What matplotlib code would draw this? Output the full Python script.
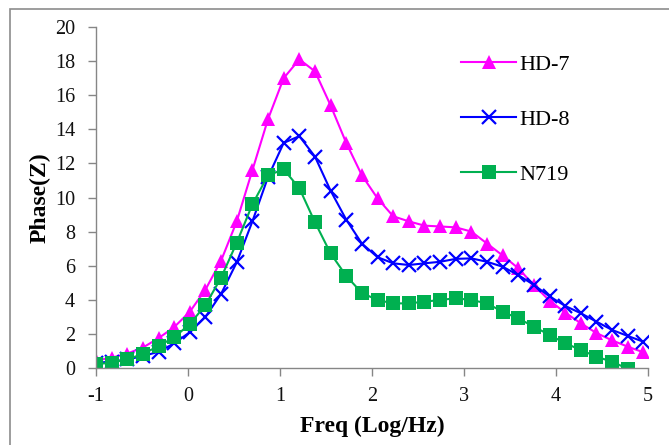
import matplotlib

matplotlib.use("Agg")
import matplotlib.pyplot as plt
from matplotlib.patches import Rectangle

# log10 frequency of each measured point
freq_log = [-1.00, -0.83, -0.66, -0.49, -0.32, -0.15, 0.02, 0.19, 0.36, 0.53,
            0.70, 0.87, 1.04, 1.21, 1.38, 1.55, 1.72, 1.89, 2.06, 2.23,
            2.40, 2.57, 2.74, 2.91, 3.08, 3.25, 3.42, 3.59, 3.76, 3.93,
            4.10, 4.27, 4.44, 4.61, 4.78, 4.95]

hd7 = [0.45, 0.60, 0.85, 1.20, 1.75, 2.40, 3.30, 4.60, 6.30, 8.60,
       11.6, 14.6, 17.0, 18.1, 17.4, 15.4, 13.2, 11.3, 9.95, 8.90,
       8.60, 8.35, 8.30, 8.25, 8.00, 7.30, 6.60, 5.85, 4.85, 3.95,
       3.25, 2.62, 2.05, 1.62, 1.25, 0.92]

hd8 = [0.30, 0.38, 0.50, 0.70, 0.95, 1.45, 2.10, 3.00, 4.35, 6.20,
       8.60, 11.2, 13.2, 13.6, 12.4, 10.4, 8.70, 7.30, 6.50, 6.14,
       6.04, 6.14, 6.23, 6.40, 6.43, 6.23, 5.94, 5.45, 4.87, 4.20,
       3.64, 3.21, 2.72, 2.23, 1.88, 1.54]

n719 = [0.23, 0.31, 0.51, 0.82, 1.29, 1.80, 2.58, 3.69, 5.30, 7.35,
        9.60, 11.3, 11.65, 10.55, 8.55, 6.72, 5.40, 4.40, 3.99, 3.79,
        3.79, 3.89, 3.99, 4.09, 3.99, 3.79, 3.30, 2.91, 2.42, 1.94,
        1.45, 1.06, 0.66, 0.37, -0.05, -0.60]

x_ticks = [-1, 0, 1, 2, 3, 4, 5]
y_ticks = list(range(0, 21, 2))

SERIF = ["Liberation Serif", "DejaVu Serif"]
AXIS_GRAY = "#868686"

fig = plt.figure(figsize=(6.69, 4.45), dpi=100)
ax = fig.add_axes([96 / 669, 77 / 445, 552 / 669, 341 / 445])

ax.plot(freq_log, hd7, color="#FF00FF", lw=1.5, marker="^", ms=10.5,
        mew=0, label="HD-7")
ax.plot(freq_log, hd8, color="#0000FF", lw=1.5, marker="x", ms=9.5,
        mew=1.6, label="HD-8")
ax.plot(freq_log, n719, color="#00B050", lw=1.5, marker="s", ms=9.5,
        mew=0, label="N719")

ax.set_xlim(-1, 5)
ax.set_ylim(0, 20)
ax.set_xticks(x_ticks)
ax.set_yticks(y_ticks)
ax.set_xticklabels([str(v) for v in x_ticks], family=SERIF, fontsize=14.5)
ax.set_yticklabels([str(v) for v in y_ticks], family=SERIF, fontsize=14.5)
ax.tick_params(axis="both", direction="out", length=6, width=1,
               color=AXIS_GRAY, labelcolor="#111111")
ax.tick_params(axis="x", pad=8)
ax.tick_params(axis="y", pad=9)

for side in ("top", "right"):
    ax.spines[side].set_visible(False)
for side in ("left", "bottom"):
    ax.spines[side].set_color(AXIS_GRAY)
    ax.spines[side].set_linewidth(1)

ax.set_xlabel("Freq (Log/Hz)", family=SERIF, fontsize=17, fontweight="bold",
              labelpad=7)
ax.set_ylabel("Phase(Z)", family=SERIF, fontsize=17, fontweight="bold",
              labelpad=3)

leg = ax.legend(loc="upper left", bbox_to_anchor=(0.645, 0.945), frameon=False,
                prop={"family": SERIF, "size": 16}, handlelength=2.5,
                handletextpad=0.15, labelspacing=1.55, borderaxespad=0)

# chart border (only the left and top edges fall inside the picture)
fig.patches.append(Rectangle((10 / 669, -0.1), 1.2, 1.0 - 9 / 445 + 0.1,
                             transform=fig.transFigure, fill=False,
                             edgecolor="#8c8c8c", lw=1.2))

fig.savefig("out.png", dpi=100)
